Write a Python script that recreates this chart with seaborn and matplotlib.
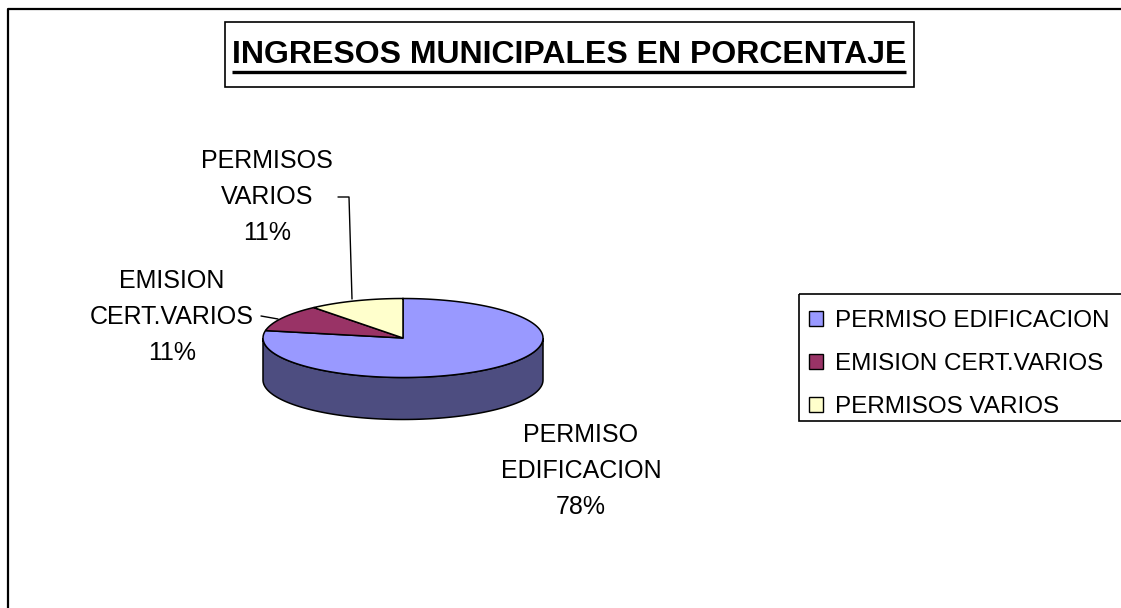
import numpy as np
import matplotlib
matplotlib.use("Agg")
import matplotlib.pyplot as plt
from matplotlib.patches import Polygon, Patch, Rectangle
import matplotlib.colors as mcolors
import seaborn as sns

# data
categories = ["PERMISO EDIFICACION", "EMISION CERT.VARIOS", "PERMISOS VARIOS"]
pie_labels = ["PERMISO\nEDIFICACION", "EMISION\nCERT.VARIOS", "PERMISOS\nVARIOS"]
percent = [78, 11, 11]
colors = ["#9999FF", "#993366", "#FFFFCC"]
title = "INGRESOS MUNICIPALES EN PORCENTAJE"

sns.set_theme(style="white")
plt.rcParams['font.family'] = ['Liberation Sans', 'DejaVu Sans']
plt.rcParams['text.color'] = 'black'

fig = plt.figure(figsize=(11.21, 6.08), dpi=100)
ax = fig.add_axes([0, 0, 1, 1])
ax.set_xlim(0, 1121)
ax.set_ylim(608, 0)
ax.axis('off')

# outer chart frame (right and bottom run off the picture)
ax.plot([8, 8, 1125], [612, 9, 9], color='black', lw=1.6, solid_capstyle='butt')

# 3d pie geometry
cx, cy, rx, ry, depth = 403, 338, 140, 39.5, 42


def ell(t):
    return cx + rx * np.cos(np.radians(t)), cy - ry * np.sin(np.radians(t))


fracs = np.array(percent) / np.sum(percent)
starts = 90 - 360 * np.concatenate([[0], np.cumsum(fracs)[:-1]])
ends = starts - 360 * fracs

# side walls (front half only, 180..360 deg)
for a1, a2, c in zip(starts, ends, colors):
    lo, hi = min(a1, a2), max(a1, a2)
    for shift in (0, -360, 360):
        s_lo, s_hi = max(lo + shift, 180), min(hi + shift, 360)
        if s_hi > s_lo:
            t = np.linspace(s_lo, s_hi, 120)
            x, y = ell(t)
            pts = np.column_stack([np.r_[x, x[::-1]], np.r_[y, y[::-1] + depth]])
            dark = np.array(mcolors.to_rgb(c)) * 0.5
            ax.add_patch(Polygon(pts, closed=True, fc=dark, ec='black', lw=1.1, zorder=2))

# top faces
for a1, a2, c in zip(starts, ends, colors):
    t = np.linspace(a1, a2, 200)
    x, y = ell(t)
    pts = np.column_stack([np.r_[cx, x], np.r_[cy, y]])
    ax.add_patch(Polygon(pts, closed=True, fc=c, ec='black', lw=1.1, zorder=3))

# data labels
lab_kw = dict(ha='center', va='center', fontsize=18, color='black', linespacing=1.62, zorder=5)
label_pos = [(581, 471), (172, 317), (267, 197)]
for lab, p, (lx, ly) in zip(pie_labels, percent, label_pos):
    ax.text(lx, ly, f"{lab}\n{p}%", **lab_kw)

# leader lines
ax.plot([338, 349, 352], [197, 197, 299], color='black', lw=1.0, zorder=4)
ax.plot([261, 278], [316, 319], color='black', lw=1.0, zorder=4)

# title box
ax.add_patch(Rectangle((225, 22), 689, 65, fill=False, ec='black', lw=1.2, zorder=4))
t = ax.text(569, 55, title, ha='center', va='center', fontsize=23.0,
            fontweight='bold', color='black', zorder=5)
fig.canvas.draw()
bb = t.get_window_extent().transformed(ax.transData.inverted())
ax.plot([bb.x0, bb.x1], [72, 72], color='black', lw=2.4, solid_capstyle='butt', zorder=5)

# legend (box drawn separately; it runs off the right edge)
ax.add_patch(Rectangle((799, 294), 340, 127, fill=False, ec='black', lw=1.2, zorder=4))
handles = [Patch(facecolor=c, edgecolor='black', lw=1.0) for c in colors]
leg = ax.legend(handles, categories, loc='upper left', bbox_to_anchor=(809, 310),
                bbox_transform=ax.transData, borderaxespad=0, fontsize=17.5,
                labelcolor='black', frameon=False,
                handlelength=0.58, handleheight=0.58, handletextpad=0.5,
                labelspacing=0.86, borderpad=0)

fig.savefig("out.png", dpi=100)
